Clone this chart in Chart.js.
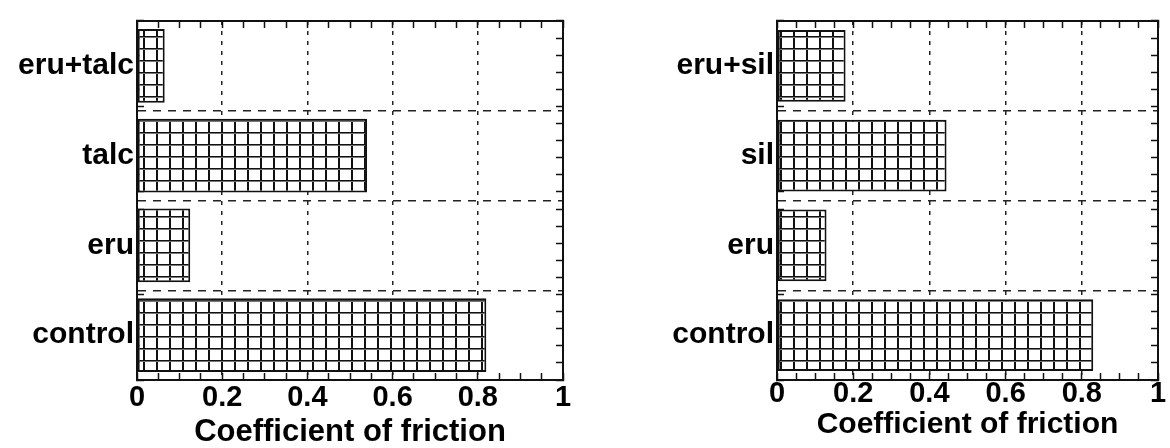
<!DOCTYPE html>
<html>
<head>
<meta charset="utf-8">
<script src="https://cdn.jsdelivr.net/npm/chart.js@4.4.0/dist/chart.umd.min.js"></script>
<style>
  html, body { margin: 0; padding: 0; background: #fff; }
  #wrap { position: relative; width: 1170px; height: 448px; overflow: hidden; }
  canvas { position: absolute; top: 0; }
  #leftChart { left: 0; }
  #rightChart { left: 585px; }
</style>
</head>
<body>
<div id="wrap">
  <canvas id="leftChart" width="585" height="448"></canvas>
  <canvas id="rightChart" width="585" height="448"></canvas>
</div>
<script>
// data (top bar first)
const talcLabels = ["eru+talc", "talc", "eru", "control"];
const talcValues = [0.065, 0.54, 0.125, 0.82];
const silLabels = ["eru+sil", "sil", "eru", "control"];
const silValues = [0.18, 0.445, 0.13, 0.83];
const xTickValues = [0, 0.2, 0.4, 0.6, 0.8, 1];
const xTickText = ["0", "0.2", "0.4", "0.6", "0.8", "1"];
const axisTitle = "Coefficient of friction";

const FONT = '"Liberation Sans", Arial, Helvetica, sans-serif';

// square-grid fill used for the bars
function makeHatch() {
    var c = document.createElement("canvas");
    c.width = 13;
    c.height = 12;
    var g = c.getContext("2d");
    g.fillStyle = "#fff";
    g.fillRect(0, 0, 13, 12);
    g.fillStyle = "#111";
    g.fillRect(0, 0, 2, 12);
    g.fillStyle = "#111";
    g.fillRect(0, 0, 13, 1);
    g.fillStyle = "#777";
    g.fillRect(0, 1, 13, 1);
    return g.createPattern(c, "repeat");
}

// little inward tick marks round the frame
function tickAxis(axis, position, max, step) {
    return {
        type: "linear",
        axis: axis,
        position: position,
        min: 0,
        max: max,
        weight: 0,
        ticks: { display: false, stepSize: step },
        grid: {
            drawOnChartArea: false,
            drawTicks: true,
            tickLength: -7,
            tickWidth: 1.5,
            tickColor: "#111"
        },
        border: { display: true, color: "#111", width: 2 },
        afterFit: function(scale) {
            if (scale.isHorizontal()) scale.height = 0;
            else scale.width = 0;
        }
    };
}

function newChart(id, labels, values, cfg) {
    const ctx = document.getElementById(id).getContext("2d");
    var options = {
        responsive: false,
        animation: false,
        indexAxis: "y",
        layout: { padding: { left: 0, right: cfg.padRight, top: cfg.padTop, bottom: 0 } },
        plugins: {
            legend: { display: false },
            tooltip: { enabled: false }
        },
        scales: {
            x: {
                type: "linear",
                position: "bottom",
                min: 0,
                max: 1,
                weight: 10,
                afterBuildTicks: function(scale) {
                    scale.ticks = xTickValues.map(function(v) { return { value: v }; });
                },
                ticks: {
                    color: "#000",
                    padding: cfg.tickPad,
                    maxRotation: 0,
                    autoSkip: false,
                    font: { family: FONT, size: 29, weight: "bold" },
                    callback: function(v, i) { return xTickText[i]; }
                },
                grid: {
                    drawTicks: false,
                    lineWidth: 1.5,
                    color: function(c) {
                        if (c.tick && (c.tick.value === 0 || c.tick.value === 1)) return "rgba(0,0,0,0)";
                        return "#222";
                    }
                },
                border: { display: true, color: "#111", width: 2, dash: [4, 6] },
                title: {
                    display: true,
                    text: axisTitle,
                    color: "#000",
                    padding: { top: 0, bottom: cfg.titlePad },
                    font: { family: FONT, size: cfg.titleSize, weight: "bold", lineHeight: 1 }
                },
                afterFit: function(scale) { scale.height = cfg.xHeight; }
            },
            y: {
                type: "category",
                position: "left",
                weight: 10,
                ticks: {
                    color: "#000",
                    padding: 3,
                    font: { family: FONT, size: 30, weight: "bold" }
                },
                grid: { drawTicks: false, lineWidth: 1.5, color: "#222", offset: true },
                border: { display: true, color: "#111", width: 2, dash: [8, 7] },
                afterFit: function(scale) { scale.width = cfg.yWidth; }
            },
            xTop: tickAxis("x", "top", 1, 0.05),
            xBot: tickAxis("x", "bottom", 1, 0.05),
            yRight: tickAxis("y", "right", 4, 0.2),
            yLeft: tickAxis("y", "left", 4, 0.2)
        }
    };
    var chart = new Chart(ctx, {
        type: "bar",
        data: {
            labels: labels,
            datasets: [{
                data: values,
                backgroundColor: makeHatch(),
                borderColor: "#111",
                borderWidth: 2,
                borderSkipped: false,
                barPercentage: cfg.barPct,
                categoryPercentage: 1
            }]
        },
        options: options
    });
    return chart;
}

newChart("leftChart", talcLabels, talcValues, {
    padRight: 22, padTop: 9, yWidth: 137, xHeight: 68, tickPad: 1, titlePad: 0, titleSize: 31, barPct: 0.82
});
newChart("rightChart", silLabels, silValues, {
    padRight: 12, padTop: 5, yWidth: 192, xHeight: 68, tickPad: -3, titlePad: 8, titleSize: 30, barPct: 0.8
});
</script>
</body>
</html>
